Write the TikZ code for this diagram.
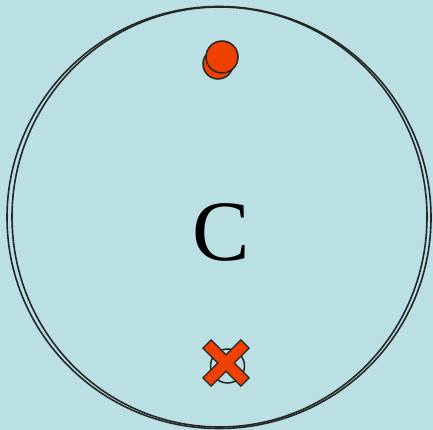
\documentclass[tikz,border=0pt]{standalone}
\usepackage{fontspec}
\setmainfont{Liberation Serif}
\definecolor{bgcyan}{HTML}{BAE0E3}
\definecolor{dotorange}{HTML}{EE4000}
\tikzset{
  ring/.style={draw=black!85, line width=1.6pt},
  dot/.style={circle, draw=black!85, line width=1.5pt, fill=dotorange, inner sep=0pt, minimum size=#1},
  arm/.style={rectangle, inner sep=0pt, minimum width=52pt, minimum height=10pt}
}
\begin{document}
\begin{tikzpicture}[x=1pt, y=-1pt]
    % Background
    \fill[bgcyan] (0,0) rectangle (433,430);
    \useasboundingbox (0,0) rectangle (433,430);

    % Draw the two rings
    \draw[ring] (219,217.5) ellipse [x radius=212, y radius=211];
    \draw[ring] (219.5,217) ellipse [x radius=207.5, y radius=210];

    % Label in the middle
    \node (label) at (221,232) {\fontsize{86}{86}\selectfont C};

    % Dots at the top
    \node[dot=30pt] (back) at (218,64) {};
    \node[dot=32pt] (front) at (222,57) {};

    % Crossed-out spot at the bottom
    \node[circle, draw=black!85, line width=1.5pt, minimum size=34pt, inner sep=0pt] (spot) at (227.5,366) {};
    \coordinate (mid) at (226,363);
    \foreach \ang in {45,-45} {
        \node[arm, draw=black!85, line width=3pt, rotate=\ang] at (mid) {};
    }
    \foreach \ang in {45,-45} {
        \node[arm, fill=dotorange, rotate=\ang] at (mid) {};
    }
\end{tikzpicture}
\end{document}
